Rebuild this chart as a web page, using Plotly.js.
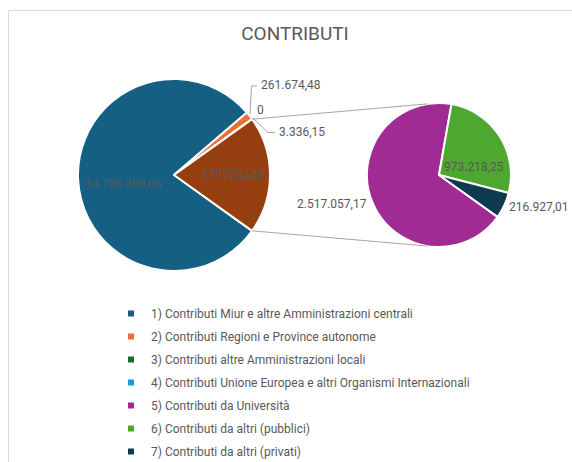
<!DOCTYPE html>
<html>
<head>
<meta charset="utf-8">
<script src="https://cdn.plot.ly/plotly-3.0.1.min.js"></script>
<style>html,body{margin:0;padding:0;background:#fff;}#chart{width:572px;height:462px;}</style>
</head>
<body>
<div id="chart"></div>
<script>
// ---- data ----
var mainLabels = [
  "1) Contributi Miur e altre Amministrazioni centrali",
  "2) Contributi Regioni e Province autonome",
  "3) Contributi altre Amministrazioni locali",
  "4) Contributi Unione Europea e altri Organismi Internazionali"
];
var mainValues = [14796408.06, 261674.48, 0, 3336.15];
var subLabels = [
  "5) Contributi da Università",
  "6) Contributi da altri (pubblici)",
  "7) Contributi da altri (privati)"
];
var subValues = [2517057.17, 973218.25, 216927.01];
var mainColors = ["#156082", "#E97132", "#196B24", "#0F9ED5"];
var otherColor = "#953F10";
var subColors = ["#A02B93", "#4EA72E", "#0E3A4F"];
var chartTitle = "CONTRIBUTI";

// ---- helpers ----
var W = 572, H = 462;
function fmt(v, group) {
  if (v === 0) return "0";
  var s = v.toFixed(2).split(".");
  var ip = s[0];
  if (group) ip = ip.replace(/\B(?=(\d{3})+(?!\d))/g, ".");
  return ip + "," + s[1];
}
function px(x, y) { return {x: x / W, y: 1 - y / H}; }

var otherValue = subValues.reduce(function(a, b){ return a + b; }, 0);
var allMain = mainValues.concat([otherValue]);
var total = allMain.reduce(function(a, b){ return a + b; }, 0);
var otherDeg = otherValue / total * 360;
var rot = 90 + otherDeg / 2;

// geometry (pixels)
var c1 = {x: 174, y: 175, r: 96};
var c2 = {x: 439, y: 175, r: 72};

var txtColor = "#595959";
var fontFam = "Roboto, 'Open Sans', sans-serif";

var traces = [];
traces.push({
  type: "pie",
  labels: mainLabels.concat(["Altro"]),
  values: allMain,
  sort: false,
  direction: "clockwise",
  rotation: rot,
  marker: {colors: mainColors.concat([otherColor]), line: {color: "#ffffff", width: 2}},
  textinfo: "none",
  hoverinfo: "none",
  showlegend: false,
  domain: {x: [(c1.x - c1.r) / W, (c1.x + c1.r) / W], y: [1 - (c1.y + c1.r) / H, 1 - (c1.y - c1.r) / H]}
});
traces.push({
  type: "pie",
  labels: subLabels,
  values: subValues,
  sort: false,
  direction: "clockwise",
  rotation: rot,
  marker: {colors: subColors, line: {color: "#ffffff", width: 2}},
  textinfo: "none",
  hoverinfo: "none",
  showlegend: false,
  domain: {x: [(c2.x - c2.r) / W, (c2.x + c2.r) / W], y: [1 - (c2.y + c2.r) / H, 1 - (c2.y - c2.r) / H]}
});

// legend entries
var legLabels = mainLabels.concat(subLabels);
var legColors = mainColors.concat(subColors);
legLabels.forEach(function(l, i) {
  traces.push({
    type: "scatter", mode: "markers", x: [null], y: [null],
    name: l, legendgroup: "g" + i,
    marker: {symbol: "square", size: 6, color: legColors[i]},
    hoverinfo: "none"
  });
});

// connector lines
var a = otherDeg / 2 * Math.PI / 180;
var up1 = {x: c1.x + c1.r * Math.cos(a), y: c1.y - c1.r * Math.sin(a)};
var lo1 = {x: c1.x + c1.r * Math.cos(a), y: c1.y + c1.r * Math.sin(a)};
var b = 99 * Math.PI / 180;
var up2 = {x: c2.x + c2.r * Math.cos(b), y: c2.y - c2.r * Math.sin(b)};
var lo2 = {x: c2.x + c2.r * Math.cos(b), y: c2.y + c2.r * Math.sin(b)};

function pline(p, q) {
  var P = px(p.x, p.y), Q = px(q.x, q.y);
  return {type: "line", xref: "paper", yref: "paper", x0: P.x, y0: P.y, x1: Q.x, y1: Q.y,
          line: {color: "#A6A6A6", width: 1}};
}
function ppath(pts) {
  var d = pts.map(function(p, i){ var P = px(p[0], p[1]); return (i ? "L" : "M") + P.x + "," + P.y; }).join(" ");
  return {type: "path", xref: "paper", yref: "paper", path: d, line: {color: "#A6A6A6", width: 1}};
}

var shapes = [
  {type: "rect", xref: "paper", yref: "paper", x0: 8.5 / W, x1: 1.2, y0: -0.2, y1: 1 - 10.5 / H,
   line: {color: "#D9D9D9", width: 1}, fillcolor: "rgba(0,0,0,0)", layer: "below"},
  pline(up1, up2),
  pline(lo1, lo2),
  ppath([[250, 114], [251.5, 86], [257, 86]]),
  ppath([[253, 118], [268, 132.5], [275, 132.5]])
];

function ann(x, y, text, anchor) {
  var P = px(x, y);
  return {xref: "paper", yref: "paper", x: P.x, y: P.y, text: text, showarrow: false,
          xanchor: anchor || "center", yanchor: "middle",
          font: {family: fontFam, size: 12, color: txtColor}};
}
var annotations = [
  ann(122.5, 184, fmt(mainValues[0], true)),
  ann(233.5, 175, fmt(otherValue, false)),
  ann(259, 85, fmt(mainValues[1], true), "left"),
  ann(255, 110, fmt(mainValues[2], true), "left"),
  ann(277, 132, fmt(mainValues[3], true), "left"),
  ann(473.5, 167, fmt(subValues[1], true)),
  ann(369, 204, fmt(subValues[0], true), "right"),
  ann(507, 207, fmt(subValues[2], true), "left")
];

var layout = {
  width: W, height: H,
  margin: {l: 0, r: 0, t: 0, b: 0, autoexpand: false},
  paper_bgcolor: "#ffffff", plot_bgcolor: "#ffffff",
  title: {text: chartTitle, font: {family: fontFam, size: 19, color: txtColor},
          x: 295 / W, xanchor: "center", y: 1 - 33 / H, yanchor: "middle"},
  xaxis: {visible: false, fixedrange: true},
  yaxis: {visible: false, fixedrange: true},
  showlegend: true,
  legend: {x: 111 / W, xanchor: "left", y: 1 - 299 / H, yanchor: "top",
           font: {family: fontFam, size: 12, color: txtColor},
           tracegroupgap: 4, bgcolor: "rgba(0,0,0,0)", borderwidth: 0},
  shapes: shapes,
  annotations: annotations
};

Plotly.newPlot("chart", traces, layout, {displayModeBar: false, staticPlot: true});
</script>
</body>
</html>
